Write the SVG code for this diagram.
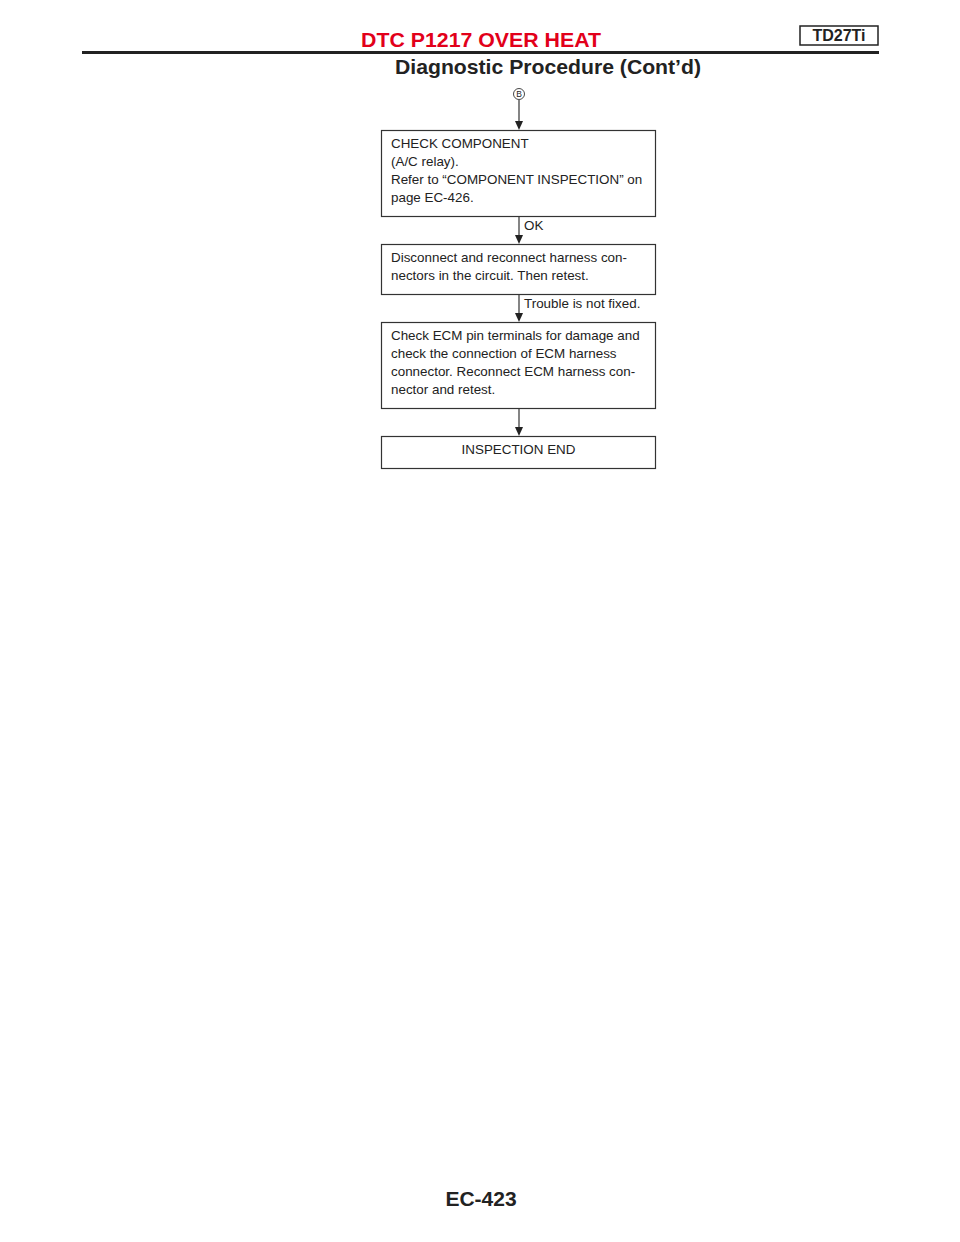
<svg xmlns="http://www.w3.org/2000/svg" width="960" height="1242" viewBox="0 0 960 1242">
<style>
.hdr{font-family:"Liberation Sans",Arial,sans-serif;font-weight:bold;}
.t{font-family:"Liberation Sans",Arial,sans-serif;font-size:13.4px;fill:#222;}
.box{fill:#fff;stroke:#333;stroke-width:1.2;}
.ln{stroke:#333;stroke-width:1.2;fill:none;}
.ah{fill:#222;}
</style>
<rect width="960" height="1242" fill="#fff"/>
<g id="header">
<text class="hdr" x="481" y="47" font-size="21" fill="#e2001a" text-anchor="middle" textLength="240" lengthAdjust="spacingAndGlyphs">DTC P1217 OVER HEAT</text>
<rect x="800" y="26" width="78" height="19" fill="#fff" stroke="#222" stroke-width="1.5"/>
<text class="hdr" x="839" y="41" font-size="16" fill="#222" text-anchor="middle">TD27Ti</text>
<line x1="82" y1="52.5" x2="879" y2="52.5" stroke="#222" stroke-width="3"/>
<text class="hdr" x="548" y="74" font-size="21" fill="#222" text-anchor="middle" textLength="306" lengthAdjust="spacingAndGlyphs">Diagnostic Procedure (Cont’d)</text>
</g>
<g id="connectors">
<line class="ln" x1="519" y1="100" x2="519" y2="122"/>
<path class="ah" d="M515,121 L523,121 L519,130 Z"/>
<line class="ln" x1="519" y1="216" x2="519" y2="236"/>
<path class="ah" d="M515,235 L523,235 L519,244 Z"/>
<text class="t" x="524" y="230">OK</text>
<line class="ln" x1="519" y1="294" x2="519" y2="314"/>
<path class="ah" d="M515,313 L523,313 L519,322 Z"/>
<text class="t" x="524" y="308">Trouble is not fixed.</text>
<line class="ln" x1="519" y1="408" x2="519" y2="428"/>
<path class="ah" d="M515,427 L523,427 L519,436 Z"/>
</g>
<g id="connectorB">
<circle cx="519" cy="94" r="5.5" fill="#fff" stroke="#333" stroke-width="0.9"/>
<text x="519" y="97.3" font-family="Liberation Sans,Arial,sans-serif" font-size="8.5" fill="#222" text-anchor="middle">B</text>
</g>
<g id="node1">
<rect class="box" x="381.5" y="130.5" width="274" height="86"/>
<text class="t" x="391" y="148">CHECK COMPONENT</text>
<text class="t" x="391" y="166">(A/C relay).</text>
<text class="t" x="391" y="184">Refer to “COMPONENT INSPECTION” on</text>
<text class="t" x="391" y="202">page EC-426.</text>
</g>
<g id="node2">
<rect class="box" x="381.5" y="244.5" width="274" height="50"/>
<text class="t" x="391" y="262">Disconnect and reconnect harness con-</text>
<text class="t" x="391" y="280">nectors in the circuit. Then retest.</text>
</g>
<g id="node3">
<rect class="box" x="381.5" y="322.5" width="274" height="86"/>
<text class="t" x="391" y="340">Check ECM pin terminals for damage and</text>
<text class="t" x="391" y="358">check the connection of ECM harness</text>
<text class="t" x="391" y="376">connector. Reconnect ECM harness con-</text>
<text class="t" x="391" y="394">nector and retest.</text>
</g>
<g id="node4">
<rect class="box" x="381.5" y="436.5" width="274" height="32"/>
<text class="t" x="518.5" y="454" text-anchor="middle">INSPECTION END</text>
</g>
<g id="footer">
<text class="hdr" x="481" y="1206" font-size="21" fill="#222" text-anchor="middle">EC-423</text>
</g>
</svg>
